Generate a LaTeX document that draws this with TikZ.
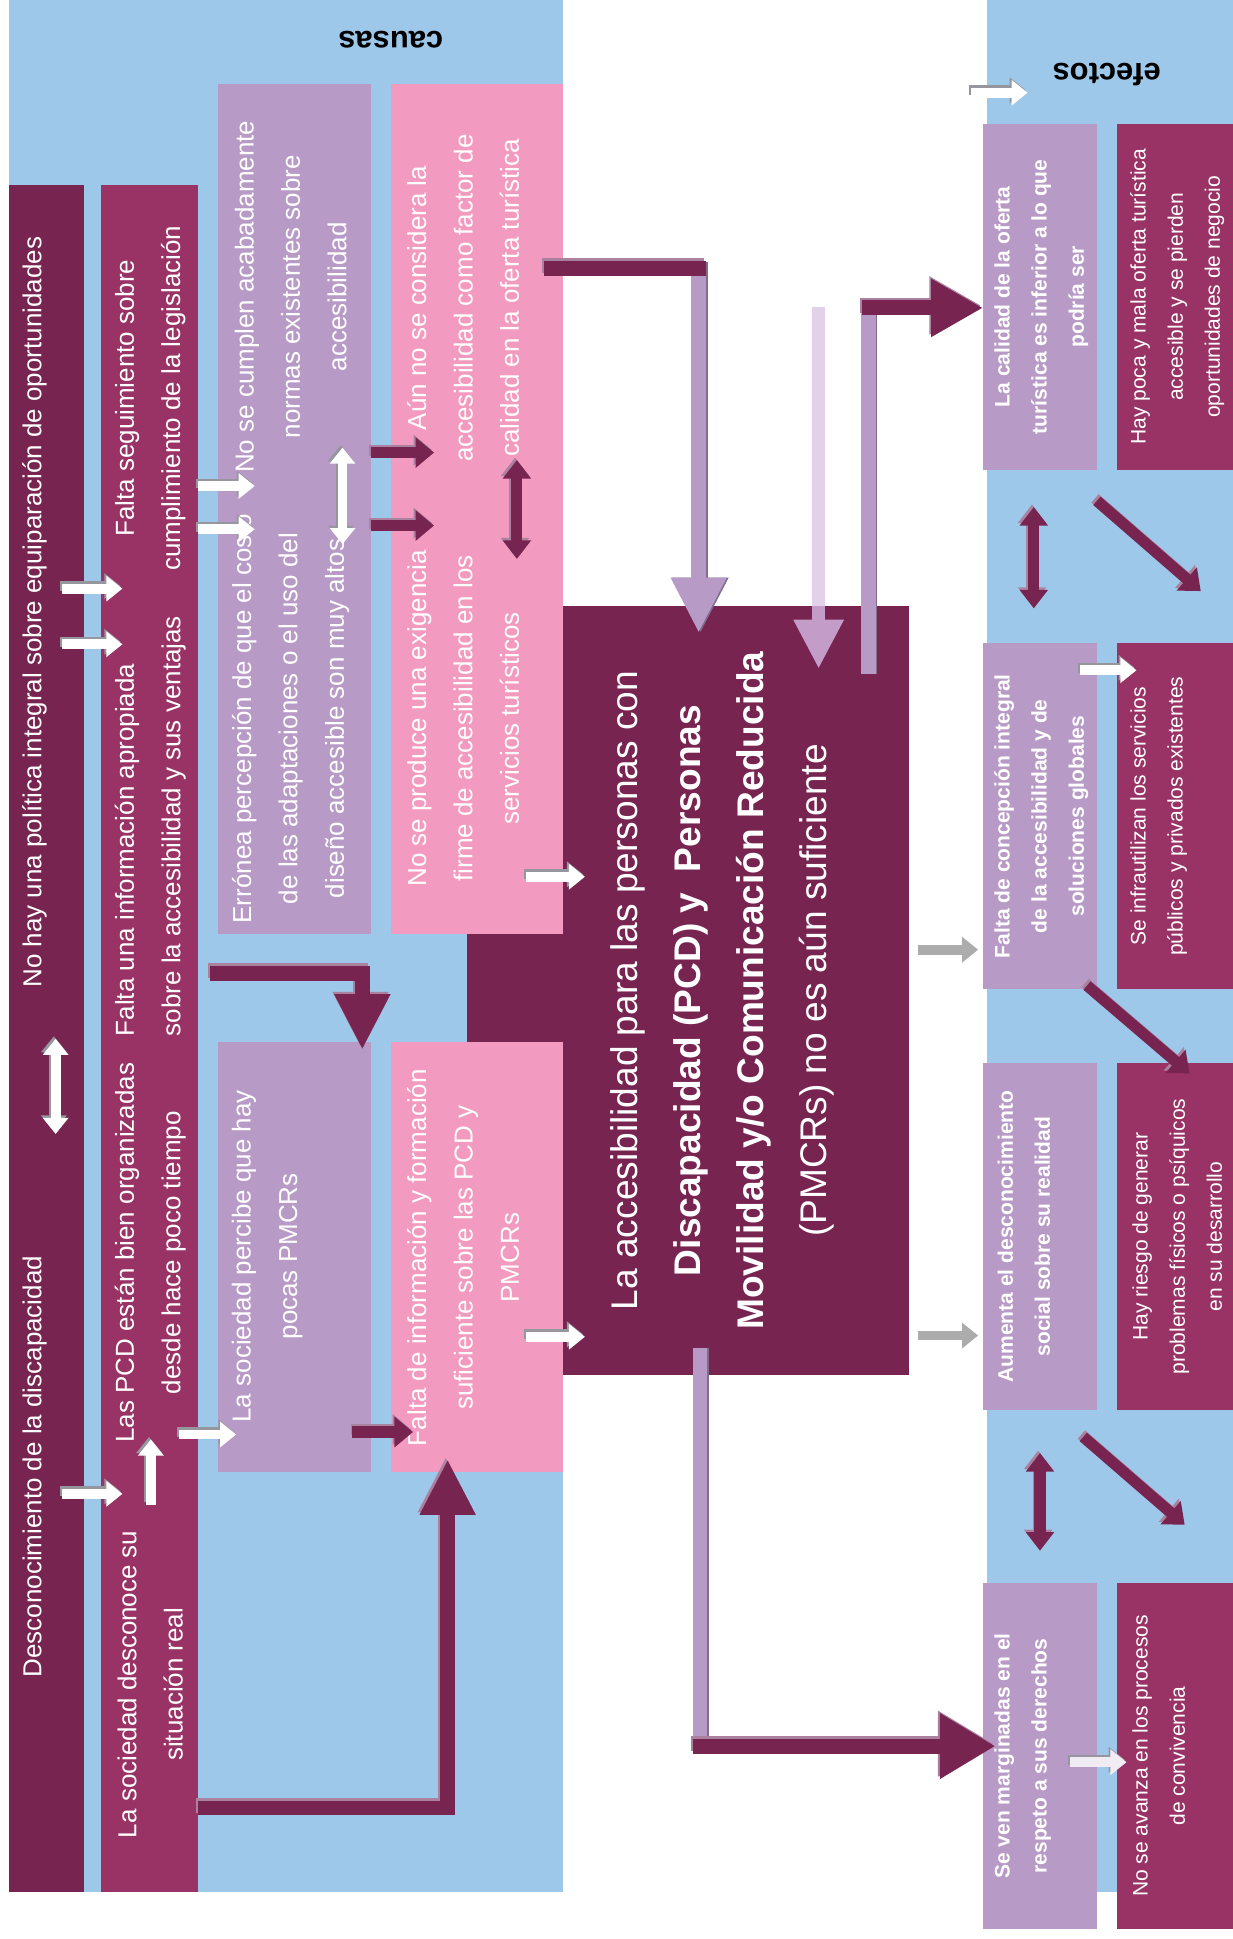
\documentclass[tikz,border=0pt]{standalone}
\usepackage{fontspec}
\setmainfont{Liberation Sans}
\usetikzlibrary{arrows.meta}
\definecolor{bgblue}{RGB}{158,200,233}
\definecolor{plum}{RGB}{119,36,81}
\definecolor{berry}{RGB}{153,51,102}
\definecolor{lilac}{RGB}{184,154,198}
\definecolor{pinkc}{RGB}{243,154,192}
\definecolor{palelilac}{RGB}{226,209,232}
\definecolor{medlilac}{RGB}{196,156,200}
\definecolor{arrgray}{RGB}{172,172,172}
\definecolor{wshcol}{RGB}{150,150,158}
\definecolor{dshcol}{RGB}{170,130,160}
\newcommand\fsLeft{\fontsize{21}{37.5}\selectfont}
\newcommand\fsMain{\fontsize{30}{51}\selectfont}
\newcommand\fsRight{\fontsize{17}{30}\selectfont}
\newcommand\fsHead{\fontsize{25}{30}\selectfont\bfseries}
\tikzset{
  area/.style={rectangle, inner sep=0pt, outer sep=0pt, draw=none},
  vt/.style={rotate=90, align=center, text=white, inner sep=0pt},
  shup/.style={transform canvas={shift={(-1.5pt,2pt)}}},
  warr/.style={draw=white, line width=8pt, -{Triangle[length=13pt,width=20pt]}},
  wdbl/.style={draw=white, line width=8pt, {Triangle[length=13pt,width=20pt]}-{Triangle[length=13pt,width=20pt]}},
  darr/.style={draw=plum, line width=9pt, -{Triangle[length=15pt,width=24pt]}},
  ddbl/.style={draw=plum, line width=9pt, {Triangle[length=15pt,width=22pt]}-{Triangle[length=15pt,width=22pt]}},
  garr/.style={draw=arrgray, line width=8pt, -{Triangle[length=13pt,width=20pt]}},
  bigline/.style={line width=12pt, line join=miter},
  bighead/.style={-{Triangle[length=45pt,width=42pt]}},
}
% arrow with a shadow copy: #1 style, #2 shadow colour, #3 start, #4 end
\newcommand\shArrow[4]{%
  \draw[#1, draw=#2, shup] (#3) -- (#4);
  \draw[#1] (#3) -- (#4);}
\begin{document}
\begin{tikzpicture}[x=1pt,y=-1pt]
\useasboundingbox (0,0) rectangle (997,1568);
\fill[white] (0,0) rectangle (997,1568);

% backgrounds
\node[area, fill=bgblue, minimum width=448pt, minimum height=1530pt] (bgL) at (231,765) {};
\node[area, fill=bgblue, minimum width=199pt, minimum height=1530pt] (bgR) at (897.5,765) {};

% central problem box
\node[area, fill=plum, minimum width=357pt, minimum height=622pt] (M) at (556.5,801) {};

% cause boxes
\node[area, fill=plum, minimum width=61pt, minimum height=1380pt] (A) at (37.5,840) {};
\node[area, fill=berry, minimum width=78pt, minimum height=1380pt] (B) at (121,840) {};
\node[area, fill=lilac, minimum width=124pt, minimum height=687pt] (C1) at (238,411.5) {};
\node[area, fill=lilac, minimum width=124pt, minimum height=347pt] (C2) at (238,1016.5) {};
\node[area, fill=pinkc, minimum width=139pt, minimum height=687pt] (D1) at (385.5,411.5) {};
\node[area, fill=pinkc, minimum width=139pt, minimum height=347pt] (D2) at (385.5,1016.5) {};

% effect boxes
\node[area, fill=lilac, minimum width=92pt, minimum height=280pt] (E1) at (841,240) {};
\node[area, fill=lilac, minimum width=92pt, minimum height=280pt] (E2) at (841,660) {};
\node[area, fill=lilac, minimum width=92pt, minimum height=280pt] (E3) at (841,1000) {};
\node[area, fill=lilac, minimum width=92pt, minimum height=280pt] (E4) at (841,1420) {};
\node[area, fill=berry, minimum width=94pt, minimum height=280pt] (F1) at (950,240) {};
\node[area, fill=berry, minimum width=94pt, minimum height=280pt] (F2) at (950,660) {};
\node[area, fill=berry, minimum width=94pt, minimum height=280pt] (F3) at (950,1000) {};
\node[area, fill=berry, minimum width=94pt, minimum height=280pt] (F4) at (950,1420) {};

% headings
\node[font=\fsHead, rotate=180, inner sep=0pt] (causas) at (316,32) {causas};
\node[font=\fsHead, rotate=180, inner sep=0pt] (efectos) at (895,60) {efectos};

% texts causes
\node[vt, font=\fsLeft] (tA1) at (28,495) {No hay una política integral sobre equiparación de oportunidades};
\node[vt, font=\fsLeft] (tA2) at (28,1186) {Desconocimiento de la discapacidad};
\node[vt, font=\fsLeft] (tB1) at (121.5,322) {Falta seguimiento sobre\\cumplimiento de la legislación};
\node[vt, font=\fsLeft, align=left] (tB2) at (121.5,668) {Falta una información apropiada\\sobre la accesibilidad y sus ventajas};
\node[vt, font=\fsLeft] (tB3) at (121.5,1013) {Las PCD están bien organizadas\\desde hace poco tiempo};
\node[vt, font=\fsLeft] (tB4) at (121.5,1362) {La sociedad desconoce su\\situación real};
\node[vt, font=\fsLeft] (tC1a) at (235,240) {No se cumplen acabadamente\\normas existentes sobre\\accesibilidad};
\node[vt, font=\fsLeft] (tC1b) at (235,581) {Errónea percepción de que el costo\\de las adaptaciones o el uso del\\diseño accesible son muy altos};
\node[vt, font=\fsLeft] (tC2) at (216,1016) {La sociedad percibe que hay\\pocas PMCRs};
\node[vt, font=\fsLeft] (tD1a) at (374.5,241) {Aún no se considera la\\accesibilidad como factor de\\calidad en la oferta turística};
\node[vt, font=\fsLeft] (tD1b) at (374.5,581) {No se produce una exigencia\\firme de accesibilidad en los\\servicios turísticos};
\node[vt, font=\fsLeft] (tD2) at (374.5,1017) {Falta de información y formación\\suficiente sobre las PCD y\\PMCRs};

% central text
\node[vt, font=\fsMain] (tM) at (584,801) {La accesibilidad para las personas con\\\textbf{Discapacidad (PCD) y\ \ Personas}\\\textbf{Movilidad y/o Comunicación Reducida}\\(PMCRs) no es aún suficiente};

% effect texts
\node[vt, font=\fsRight\bfseries] (tE1) at (842,240) {La calidad de la oferta\\turística es inferior a lo que\\podría ser};
\node[vt, font=\fsRight\bfseries] (tE2) at (842,660) {Falta de concepción integral\\de la accesibilidad y de\\soluciones globales};
\node[vt, font=\fsRight\bfseries] (tE3) at (828,1000) {Aumenta el desconocimiento\\social sobre su realidad};
\node[vt, font=\fsRight\bfseries] (tE4) at (827,1420) {Se ven marginadas en el\\respeto a sus derechos};
\node[vt, font=\fsRight] (tF1) at (952,240) {Hay poca y mala oferta turística\\accesible y se pierden\\oportunidades de negocio};
\node[vt, font=\fsRight] (tF2) at (937,660) {Se infrautilizan los servicios\\públicos y privados existentes};
\node[vt, font=\fsRight] (tF3) at (952,1000) {Hay riesgo de generar\\problemas físicos o psíquicos\\en su desarrollo};
\node[vt, font=\fsRight] (tF4) at (937,1420) {No se avanza en los procesos\\de convivencia};

% ---------- arrow end points ----------
\coordinate (wa1s) at (50,476);   \coordinate (wa1e) at (99,476);
\coordinate (wa2s) at (50,521);   \coordinate (wa2e) at (99,521);
\coordinate (wa3s) at (50,1208);  \coordinate (wa3e) at (99,1208);
\coordinate (wads) at (45,917);   \coordinate (wade) at (45,840);
\coordinate (wbus) at (122,1217); \coordinate (wbue) at (122,1164);
\coordinate (wb1s) at (160,393);  \coordinate (wb1e) at (206,393);
\coordinate (wb2s) at (160,428);  \coordinate (wb2e) at (206,428);
\coordinate (wb3s) at (145,1160); \coordinate (wb3e) at (191,1160);
\coordinate (wcds) at (277,440);  \coordinate (wcde) at (277,362);
\coordinate (wd1s) at (425,709);  \coordinate (wd1e) at (473,709);
\coordinate (wd2s) at (425,1081); \coordinate (wd2e) at (473,1081);
\coordinate (we2s) at (873,542);  \coordinate (we2e) at (919,542);
\coordinate (we4s) at (865,1425); \coordinate (we4e) at (911,1425);
\coordinate (wefs) at (785,75);   \coordinate (wefe) at (831,75);
\coordinate (d1s) at (300,366);   \coordinate (d1e) at (351,366);
\coordinate (d2s) at (300,425);   \coordinate (d2e) at (351,425);
\coordinate (d3s) at (285,1158);  \coordinate (d3e) at (334,1158);
\coordinate (ddds) at (418,452);  \coordinate (ddde) at (418,372);
\coordinate (de1s) at (836,492);  \coordinate (de1e) at (836,410);
\coordinate (de2s) at (841,1254); \coordinate (de2e) at (841,1175);
\coordinate (dg1s) at (887,405);  \coordinate (dg1e) at (971,478);
\coordinate (dg2s) at (879,797);  \coordinate (dg2e) at (962,868);
\coordinate (dg3s) at (876,1162); \coordinate (dg3e) at (958,1233);
\coordinate (g1s) at (742,768);   \coordinate (g1e) at (791,768);
\coordinate (g2s) at (742,1080);  \coordinate (g2e) at (791,1080);
% big connectors
\coordinate (bLs) at (160,1462);  \coordinate (bLe) at (362,1180);
\coordinate (bCs) at (170,787);   \coordinate (bCe) at (293,849);
\coordinate (bTs) at (440,217);   \coordinate (bTc) at (571,217);
\coordinate (bTv) at (565,212);   \coordinate (bTe) at (565,512);
\coordinate (pls) at (662,248);   \coordinate (plm) at (662,490);  \coordinate (ple) at (662,541);
\coordinate (bEs) at (702,545);   \coordinate (bEc) at (702,243);
\coordinate (bEh) at (697,249);   \coordinate (bEe) at (795,249);
\coordinate (bFs) at (566,1090);  \coordinate (bFc) at (566,1418);
\coordinate (bFh) at (560,1412);  \coordinate (bFe) at (805,1412);

% ---------- arrows ----------
\shArrow{warr}{wshcol}{wa1s}{wa1e}
\shArrow{warr}{wshcol}{wa2s}{wa2e}
\shArrow{warr}{wshcol}{wa3s}{wa3e}
\shArrow{wdbl}{wshcol}{wads}{wade}
\shArrow{warr}{wshcol}{wbus}{wbue}
\shArrow{warr}{wshcol}{wb1s}{wb1e}
\shArrow{warr}{wshcol}{wb2s}{wb2e}
\shArrow{warr}{wshcol}{wb3s}{wb3e}
\shArrow{wdbl}{wshcol}{wcds}{wcde}
\shArrow{warr}{wshcol}{wd1s}{wd1e}
\shArrow{warr}{wshcol}{wd2s}{wd2e}
\shArrow{warr}{wshcol}{we2s}{we2e}
\draw[warr, draw=wshcol, shup] (we4s) -- (we4e);
\draw[warr, draw=white!80!lilac] (we4s) -- (we4e);
\shArrow{warr}{wshcol}{wefs}{wefe}

\shArrow{darr}{dshcol}{d1s}{d1e}
\shArrow{darr}{dshcol}{d2s}{d2e}
\shArrow{darr}{dshcol}{d3s}{d3e}
\shArrow{ddbl}{dshcol}{ddds}{ddde}
\shArrow{ddbl}{dshcol}{de1s}{de1e}
\shArrow{ddbl}{dshcol}{de2s}{de2e}
\shArrow{darr}{dshcol}{dg1s}{dg1e}
\shArrow{darr}{dshcol}{dg2s}{dg2e}
\shArrow{darr}{dshcol}{dg3s}{dg3e}

\draw[garr] (g1s) -- (g1e);
\draw[garr] (g2s) -- (g2e);

% big L connector to D2
\draw[bigline, bighead, dshcol, shup] (bLs) -| (bLe);
\draw[bigline, bighead, plum] (bLs) -| (bLe);
% big connector to C2
\draw[bigline, bighead, dshcol, shup] (bCs) -| (bCe);
\draw[bigline, bighead, plum] (bCs) -| (bCe);
% top connector into central box
\draw[bigline, bighead, lilac!70!black, transform canvas={shift={(1.5pt,0pt)}}] (bTv) -- (bTe);
\draw[bigline, bighead, lilac] (bTv) -- (bTe);
\draw[bigline, dshcol, shup] (bTs) -- (bTc);
\draw[bigline, plum] (bTs) -- (bTc);
% pale arrow (lighter over white, stronger over the central box)
\draw[line width=10pt, palelilac] (pls) -- (plm);
\draw[line width=10pt, medlilac, -{Triangle[length=40pt,width=38pt]}] (plm) -- (ple);
% to E1
\draw[bigline, lilac!70!black, transform canvas={shift={(1.5pt,0pt)}}] (bEs) -- (bEc);
\draw[bigline, lilac] (bEs) -- (bEc);
\draw[bigline, dshcol, shup, -{Triangle[length=42pt,width=44pt]}] (bEh) -- (bEe);
\draw[bigline, plum, -{Triangle[length=42pt,width=44pt]}] (bEh) -- (bEe);
% to E4
\draw[bigline, lilac!70!black, transform canvas={shift={(1.5pt,0pt)}}] (bFs) -- (bFc);
\draw[bigline, lilac] (bFs) -- (bFc);
\draw[bigline, dshcol, shup, -{Triangle[length=45pt,width=50pt]}] (bFh) -- (bFe);
\draw[bigline, plum, -{Triangle[length=45pt,width=50pt]}] (bFh) -- (bFe);
\end{tikzpicture}
\end{document}
